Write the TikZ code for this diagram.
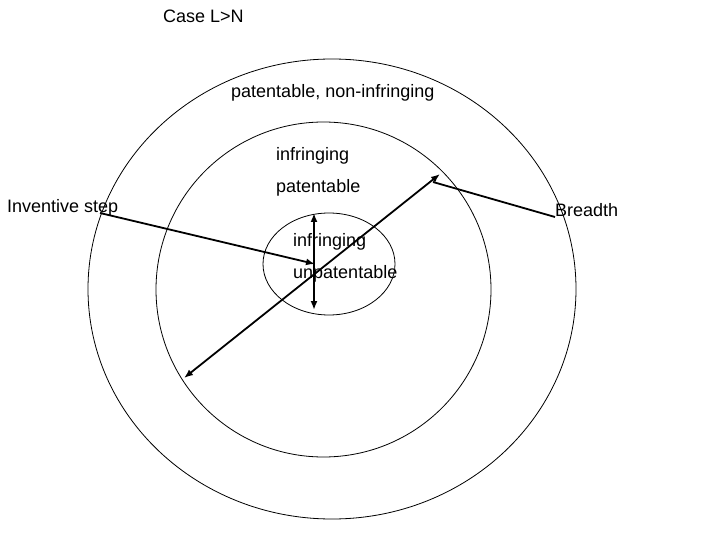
\documentclass[tikz,border=0pt]{standalone}
\usepackage{fontspec}
\setmainfont{Liberation Sans}
\usetikzlibrary{arrows.meta,shapes.geometric}

\begin{document}
\begin{tikzpicture}[x=1pt, y=-1pt,
    every node/.style={font=\fontsize{18}{20}\selectfont, inner sep=0pt, anchor=base west},
    ring/.style={draw, ellipse, line width=0.8pt, anchor=center},
    arr/.style={line width=1.8pt, -{Latex[length=9pt,width=7pt]}},
    darr/.style={line width=1.8pt, {Latex[length=9pt,width=7pt]}-{Latex[length=9pt,width=7pt]}}]
  \useasboundingbox (0,0) rectangle (720,540);
  % the three regions
  \node[ring, minimum width=488pt, minimum height=460pt] (outer) at (332,289) {};
  \node[ring, minimum width=335pt, minimum height=335pt] (mid) at (323.5,289.5) {};
  \node[ring, minimum width=132pt, minimum height=102pt] (core) at (329,264) {};
  % labels
  \node (ttl) at (163,23) {Case L>N};
  \node (pn) at (231,98) {patentable, non-infringing};
  \node (inf1) at (276,161) {infringing};
  \node (pat) at (276,193) {patentable};
  \node (inf2) at (293,246) {infringing};
  \node (unp) at (293,278) {unpatentable};
  \node (is) at (7,212) {Inventive step};
  \node (br) at (555,217) {Breadth};
  % arrows
  \coordinate (vtop) at (314,213);
  \coordinate (vbot) at (314,310);
  \coordinate (dlo) at (184,378);
  \coordinate (dhi) at (440,174);
  \coordinate (isend) at (100,213);
  \coordinate (brend) at (433,182);
  \draw[darr] (vtop) -- (vbot);
  \draw[darr] (dlo) -- (dhi);
  \draw[arr] (isend) -- (315,264);
  \draw[line width=1.8pt] (br.base west) -- (brend);
\end{tikzpicture}
\end{document}
